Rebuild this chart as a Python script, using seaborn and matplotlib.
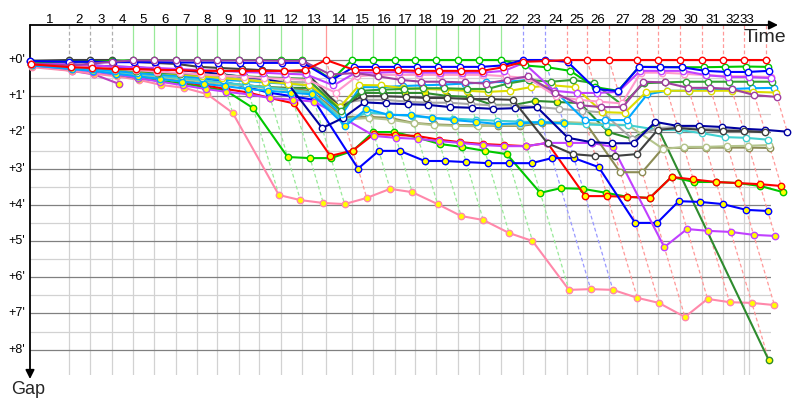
import numpy as np
import pandas as pd
import matplotlib
matplotlib.use("Agg")
import matplotlib.pyplot as plt
import matplotlib.transforms as mtransforms
import seaborn as sns

# ---------------- data (gaps in minutes behind the leader, per lap) ----------------
leader_time = [0.0, 3.64, 5.61, 7.66, 9.63, 11.59, 13.64, 15.61, 17.48, 19.53, 21.40,
               23.46, 25.42, 27.66, 30.09, 32.06, 34.11, 35.98, 37.94, 40.00, 41.96,
               44.02, 46.07, 48.13, 50.19, 52.06, 54.11, 56.73, 58.69, 60.75, 62.80,
               64.77, 66.73, 68.79]
race_end = 67.2
lap_labels = [str(i) for i in range(1, 34)]
gap_ticks = [0, 1, 2, 3, 4, 5, 6, 7, 8]
gap_tick_labels = ["+%d'" % v for v in gap_ticks]
nan = float("nan")

red_1 = [0.12, 0.2, 0.22, 0.25, 0.25, 0.27, 0.28, 0.3, 0.3, 0.3, 0.3, 0.3, 0.28, 0.0,
         0.28, 0.28, 0.28, 0.3, 0.3, 0.3, 0.3, 0.2, 0.05, 0.03,
         0.0, 0.0, 0.0, 0.0, 0.0, 0.0, 0.0, 0.0, 0.0, 0.0]
red_2 = [0.1, 0.2, 0.28, 0.35, 0.4, 0.5, 0.6, 0.7, 0.8, 0.9, 1.05, 1.2, 2.65,
         2.5, 2.05, 2.07, 2.1, 2.2, 2.27, 2.32, 2.35, 2.38,
         2.29, 3.76, 3.76, 3.78, 3.81, 3.23, 3.3, 3.37, 3.4, 3.43, 3.48]
green_1 = [0.05, 0.05, 0.05, 0.03, 0.0, 0.0, 0.0, 0.0, 0.0, 0.0, 0.0, 0.0, 0.0, 0.55,
           0.0, 0.0, 0.0, 0.0, 0.0, 0.0, 0.0, 0.0,
           0.15, 0.2, 0.3, 0.75, 0.85, 0.19, 0.19, 0.2, 0.2, 0.19, 0.18, 0.19]
green_2 = [0.12, 0.22, 0.3, 0.4, 0.5, 0.58, 0.65, 0.75, 0.85, 1.33, 2.68, 2.71, 2.71,
           2.51, 1.99, 1.99, 2.15, 2.32, 2.4, 2.51, 2.6, 3.67,
           3.54, 3.56, 3.67, 3.78, 3.81, 3.23, 3.37, 3.37, 3.4, 3.48, 3.65]
blue_1 = [0.03, 0.05, 0.05, 0.06, 0.06, 0.06, 0.07, 0.07, 0.07, 0.08, 0.08, 0.08, 0.08,
          0.55, 0.19, 0.19, 0.19, 0.19, 0.19, 0.19, 0.19, 0.15,
          0.0, 0.0, 0.05, 0.8, 0.86, 0.19, 0.2, 0.2, 0.3, 0.33, 0.33, 0.3]
blue_2 = [0.05, 0.12, 0.18, 0.22, 0.2, 0.3, 0.4, 0.5, 0.6, 0.75, 0.9, 1.0, 1.1,
          3.0, 2.51, 2.51, 2.79, 2.79, 2.82, 2.85, 2.85, 2.85,
          2.71, 2.71, 2.96, 4.5, 4.5, 3.9, 3.92, 3.98, 4.14, 4.17]
violet_1 = [0.08, 0.12, 0.15, 0.18, 0.2, 0.22, 0.25, 0.28, 0.3, 0.33, 0.35, 0.38, 0.4,
            0.7, 0.35, 0.35, 0.33, 0.35, 0.35, 0.35, 0.35, 0.3,
            0.08, 0.85, 0.91, 0.91, 0.88, 0.3, 0.3, 0.3, 0.42, 0.47, 0.47, 0.5]
violet_2 = [0.15, 0.25, 0.32, 0.4, 0.5, 0.6, 0.7, 0.8, 0.88, 0.95, 1.05, 1.1, 1.15,
            1.6, 2.1, 2.15, 2.18, 2.24, 2.29, 2.35, 2.38, 2.38,
            2.29, 2.29, 2.29, 2.4, 5.17, 4.67, 4.72, 4.75, 4.83, 4.86]
pink_1 = [0.1, 0.15, 0.2, 0.24, 0.28, 0.32, 0.36, 0.4, 0.43, 0.46, 0.5, 0.52, 0.55,
          0.9, 0.45, 0.41, 0.41, 0.41, 0.41, 0.41, 0.41, 0.45,
          0.5, 1.0, 1.1, 1.15, 1.2, 0.35, 0.35, 0.38, 0.42, 0.45, 0.45, 0.47]
pink_2 = [0.2, 0.3, 0.38, 0.45, 0.55, 0.69, 0.77, 0.94, 1.46, 3.73, 3.87, 3.95, 3.98,
          3.81, 3.56, 3.65, 3.98, 4.31, 4.42, 4.78, 5.0, 6.35,
          6.33, 6.35, 6.57, 6.71, 7.1, 6.6, 6.69, 6.71, 6.77]
dkgreen_1 = [0.08, 0.15, 0.2, 0.25, 0.3, 0.35, 0.38, 0.4, 0.42, 0.45, 0.48, 0.5, 0.52,
             1.4, 0.85, 0.82, 0.8, 0.78, 0.78, 0.8, 0.8, 0.65,
             0.55, 0.6, 0.55, 0.64, 1.24, 0.64, 0.62, 0.6, 0.6, 0.6, 0.6, 0.6]
dkgreen_2 = [0.1, 0.2, 0.3, 0.38, 0.45, 0.5, 0.55, 0.6, 0.65, 0.7, 0.75, 0.77, 0.77,
             1.35, 0.91, 0.91, 0.91, 0.91, 0.99, 1.02, 1.24, 1.24,
             1.13, 1.16, 1.19, 1.99, 2.18, 1.77, nan, 8.29]
yellow_1 = [0.1, 0.15, 0.2, 0.25, 0.3, 0.35, 0.4, 0.45, 0.5, 0.55, 0.6, 0.65, 0.7,
            1.3, 0.69, 0.7, 0.78, 0.8, 0.82, 0.85, 0.88, 0.85,
            0.75, 0.7, 0.75, 1.44, 1.46, 0.88, 0.85, 0.85, 0.85, 0.85, 0.88, 0.9]
ltblue_1 = [0.1, 0.18, 0.24, 0.3, 0.36, 0.4, 0.45, 0.5, 0.55, 0.58, 0.62, 0.66, 0.7,
            1.5, 0.75, 0.75, 0.72, 0.7, 0.68, 0.65, 0.62, 0.6,
            0.55, 0.83, 1.66, 1.66, 1.66, 0.95, 0.85, 0.85, 0.8, 0.8, 0.78, 0.77]
ltblue_2 = [0.15, 0.25, 0.3, 0.38, 0.45, 0.52, 0.6, 0.66, 0.72, 0.8, 0.85, 0.9, 0.95,
            1.82, 1.35, 1.52, 1.52, 1.6, 1.66, 1.71, 1.77, 1.75, 1.72, 1.75]
cyan_1 = [0.12, 0.2, 0.26, 0.32, 0.38, 0.44, 0.5, 0.56, 0.62, 0.7, 0.76, 0.82, 0.9,
          1.7, 1.45, 1.5, 1.55, 1.6, 1.62, 1.65, 1.68, 1.7,
          1.72, 1.75, 1.78, 1.8, 1.8, 1.93, 1.93, 2.02, 2.13, 2.15, 2.2]
purple_1 = [0.1, 0.15, 0.1, 0.05, 0.01, 0.01, 0.01, 0.01, 0.01, 0.01, 0.01, 0.02, 0.02,
            0.4, 0.36, 0.45, 0.55, 0.6, 0.6, 0.62, 0.65, 0.55,
            0.45, 0.9, 1.25, 1.3, 1.3, 0.6, 0.62, 0.77, 0.77, 0.8, 0.97, 1.02]
dkgray_1 = [0.02, 0.0, 0.0, 0.0, 0.05, 0.08, 0.11, 0.19, 0.22, 0.25, 0.28, 0.3, 0.33,
            1.3, 1.0, 1.0, 1.02, 1.05, 1.05, 1.08, 1.08, 1.1,
            2.3, 2.6, 2.65, 2.65, 2.6, 1.93, 1.88, 1.93, 1.96, 1.96, 2.0]
gray_1 = [0.1, 0.16, 0.22, 0.27, 0.32, 0.36, 0.4, 0.44, 0.48, 0.52, 0.56, 0.6, 0.62,
          1.2, 1.1, 1.1, 1.15, 1.18, 1.18, 1.22, 1.25, 1.25,
          1.3, 1.35, 1.4, 1.45, 2.18, 1.88, 1.85, 1.9, 1.92, 1.95, 1.97]
navy_1 = [0.08, 0.12, 0.15, 0.18, 0.2, 0.24, 0.28, 0.33, 0.39, 0.47, 0.52, 0.66, 1.88,
          1.6, 1.17, 1.2, 1.22, 1.24, 1.3, 1.32, 1.35, 1.33,
          1.3, 2.15, 2.27, 2.3, 2.3, 1.71, 1.82, 1.82, 1.85, 1.9, 1.93, 1.98]
olive_1 = [0.1, 0.18, 0.25, 0.32, 0.4, 0.46, 0.52, 0.58, 0.64, 0.7, 0.75, 0.8, 0.85,
           1.57, 1.57, 1.6, 1.74, 1.78, 1.8, 1.8, 1.82, 1.82,
           1.75, 1.75, 1.74, 3.1, 3.1, 2.43, 2.43, 2.42, 2.42, 2.42, 2.43]
ltolive_1 = [0.12, 0.2, 0.27, 0.34, 0.42, 0.48, 0.54, 0.6, 0.66, 0.72, 0.78, 0.84, 0.9,
             1.65, 1.6, 1.65, 1.75, 1.8, 1.82, 1.83, 1.8, 1.8,
             1.71, 1.71, 1.74, 1.77, 1.8, 2.46, 2.4, 2.4, 2.38, 2.37, 2.35]
magenta_2 = [0.15, 0.3, 0.4, 0.66]

series = {
    "magenta_2": magenta_2, "pink_2": pink_2, "dkgreen_2": dkgreen_2, "green_2": green_2,
    "red_2": red_2, "blue_2": blue_2, "violet_2": violet_2, "olive_1": olive_1,
    "ltolive_1": ltolive_1, "cyan_1": cyan_1, "ltblue_2": ltblue_2, "gray_1": gray_1,
    "navy_1": navy_1, "dkgray_1": dkgray_1, "ltblue_1": ltblue_1, "yellow_1": yellow_1,
    "dkgreen_1": dkgreen_1, "pink_1": pink_1, "violet_1": violet_1, "green_1": green_1,
    "blue_1": blue_1, "purple_1": purple_1, "red_1": red_1,
}

# ---------------- styles ----------------
line_colors = {
    "red": "#ff0000", "green": "#00c800", "blue": "#0000ff", "violet": "#c040ff",
    "pink": "#ff88aa", "dkgreen": "#2e8b2e", "yellow": "#dcdc00", "ltblue": "#00a8ff",
    "cyan": "#40d0d0", "purple": "#a040a0", "dkgray": "#404040", "gray": "#a8a8a8",
    "navy": "#0000a0", "olive": "#8c8c55", "ltolive": "#b4c48c", "magenta": "#c040c0",
}
special_colors = {"pink_1": "#ff99cc", "dkgreen_1": "#33a033"}

rows = []
for name, gaps in series.items():
    for lap, g in enumerate(gaps):
        if not np.isnan(g):
            rows.append({"driver": name, "lap": lap, "gap": g, "time": leader_time[lap] + g})
df = pd.DataFrame(rows)

sns.set_style("white")
plt.rcParams["font.family"] = ["Liberation Sans", "DejaVu Sans"]

fig = plt.figure(figsize=(8, 4), dpi=100)
ax = fig.add_axes([30 / 800, 25 / 400, 741 / 800, 350 / 400])
x_max = 741 / 10.7
y_top = -35 / 36.2
y_bot = 315 / 36.2
ax.set_xlim(0, x_max)
ax.set_ylim(y_bot, y_top)
for s in ax.spines.values():
    s.set_visible(False)
ax.set_xticks([])
ax.set_yticks([])

# grid
for v in np.arange(0.5, 8.0, 1.0):
    ax.plot([0, x_max], [v, v], color="#d2d2d2", lw=0.9, zorder=0.5)
for v in gap_ticks:
    ax.plot([0, x_max], [v, v], color="#808080", lw=0.9, zorder=0.6)
for t in leader_time[1:33] + [race_end]:
    ax.plot([t, t], [0, y_bot], color="#d2d2d2", lw=0.9, zorder=0.5)

# leader per lap -> colored lap lines
def light(c, a=0.38):
    r, g, b = matplotlib.colors.to_rgb(c)
    return (1 - a * (1 - r), 1 - a * (1 - g), 1 - a * (1 - b))

for k in range(1, 34):
    present = df[df.lap == k]
    lead = present.loc[present.gap.idxmin(), "driver"]
    base = lead.split("_")[0]
    col = light(line_colors[base], 0.42 if base == "dkgray" else 0.4)
    solid = base == "green" or k == 13
    ls = "-" if solid else (0, (3, 2))
    ax.plot([leader_time[k], leader_time[k]], [y_top, 0], color=col, lw=0.9,
            ls=ls, zorder=1, clip_on=False)
    gmax = present.gap.max()
    if gmax > 0:
        ax.plot([leader_time[k], leader_time[k] + gmax], [0, gmax], color=col,
                lw=0.9, ls=(0, (3, 2)), zorder=1, clip_on=False)

# series
for i, name in enumerate(series):
    base, kind = name.split("_")
    lc = special_colors.get(name, line_colors[base])
    fc = "white" if kind == "1" else "#ffff00"
    sub = df[df.driver == name]
    sns.lineplot(data=sub, x="time", y="gap", ax=ax, color=lc, lw=1.5, marker="o",
                 markersize=4.6, markerfacecolor=fc, markeredgecolor=lc,
                 markeredgewidth=1.0, sort=False, estimator=None, legend=False,
                 clip_on=False, zorder=3 + i * 0.1)
ax.set_xlabel("")
ax.set_ylabel("")

# lap labels on top (centred between lap lines, nudged apart where cramped)
bounds = leader_time[:33] + [race_end]
mids = [(bounds[k] + bounds[k + 1]) / 2 for k in range(len(lap_labels))]
min_sep = 1.32
for k in range(len(mids) - 1, 0, -1):
    if mids[k] - mids[k - 1] < min_sep:
        mids[k - 1] = mids[k] - min_sep
top_tr = mtransforms.blended_transform_factory(ax.transData, ax.transAxes)
for mid, lab in zip(mids, lap_labels):
    ax.text(mid, 1 + 5 / 350, lab, transform=top_tr,
            ha="center", va="center", fontsize=9.5, color="black")

# gap labels
left_tr = mtransforms.blended_transform_factory(ax.transAxes, ax.transData)
for v, lab in zip(gap_ticks, gap_tick_labels):
    ax.text(-5 / 741, v, lab, transform=left_tr,
            ha="right", va="center", fontsize=9, color="black")

# axis arrows
ax.annotate("", xy=(778, 375), xytext=(30, 375), xycoords="figure pixels",
            textcoords="figure pixels",
            arrowprops=dict(arrowstyle="-|>", color="black", lw=1.3, mutation_scale=13,
                            shrinkA=0, shrinkB=0))
ax.annotate("", xy=(30, 21), xytext=(30, 375), xycoords="figure pixels",
            textcoords="figure pixels",
            arrowprops=dict(arrowstyle="-|>", color="black", lw=1.3, mutation_scale=13,
                            shrinkA=0, shrinkB=0))
fig.text(765 / 800, 1 - 38 / 400, "Time", ha="center", va="center", fontsize=14)
fig.text(28 / 800, 1 - 389 / 400, "Gap", ha="center", va="center", fontsize=13)

fig.savefig("out.png", dpi=100)
